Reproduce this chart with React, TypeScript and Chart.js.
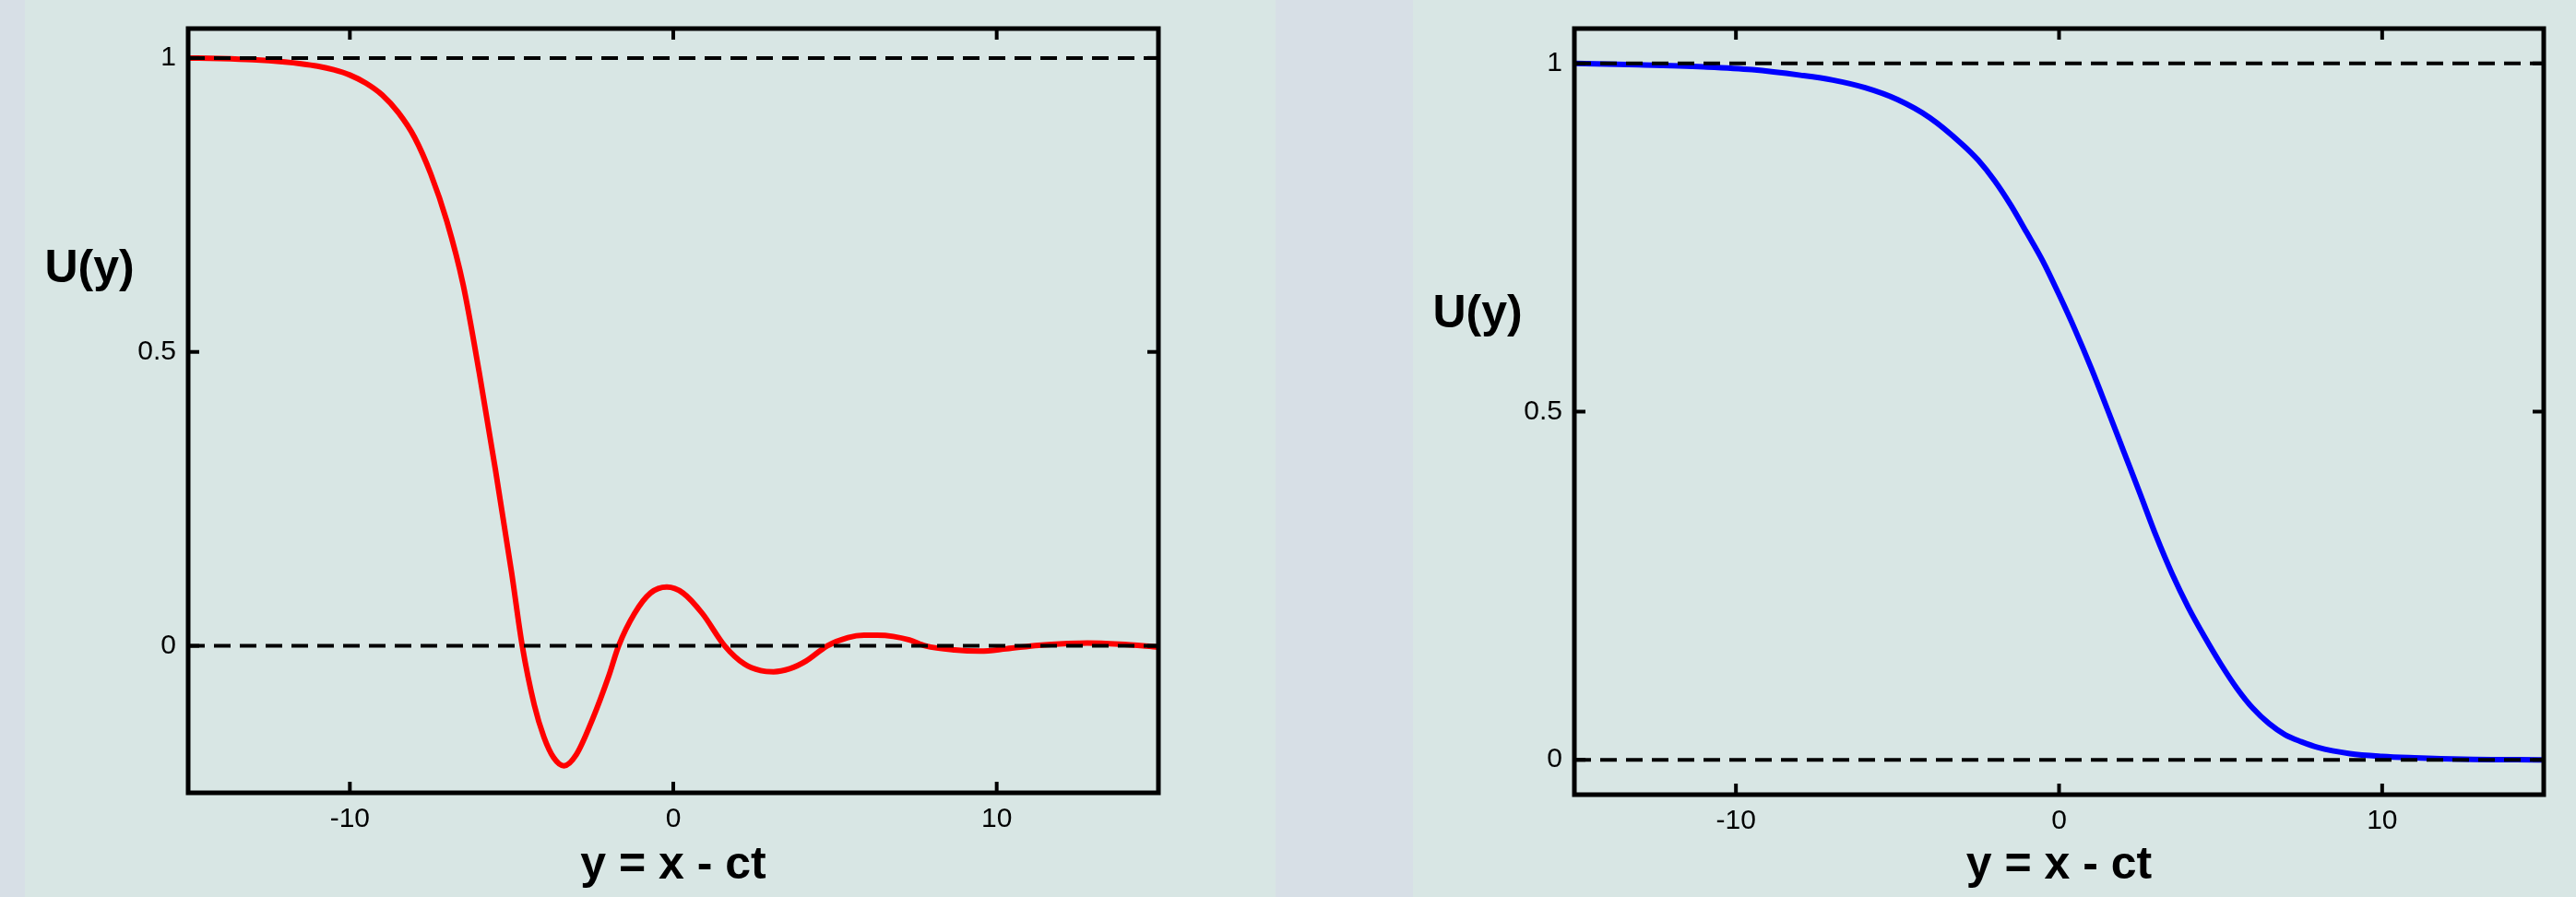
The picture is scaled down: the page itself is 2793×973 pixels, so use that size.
import React, { useEffect, useRef } from "react";
import { Chart, registerables } from "chart.js";

Chart.register(...registerables);

// ---- data ----
const X_TICKS = [-10, 0, 10];
const Y_TICKS = [0, 0.5, 1];
const REF_LEVELS = [0, 1];

const RED_X = [-15, -14, -13, -12, -11.5, -11, -10.5, -10, -9.5, -9.0, -8.5, -8.0, -7.5, -7.0, -6.5, -6.0, -5.5, -5.0, -4.67, -4.3, -4.0, -3.7, -3.38, -3.0, -2.5, -2.0, -1.69, -1.2, -0.7, -0.2, 0.3, 0.9, 1.59, 2.2, 2.7, 3.1, 3.6, 4.1, 4.76, 5.4, 5.9, 6.3, 6.8, 7.3, 7.8, 8.7, 9.5, 10.3, 11.3, 12.2, 12.8, 13.8, 15];
const RED_Y = [1.0, 0.999, 0.997, 0.993, 0.99, 0.986, 0.98, 0.971, 0.957, 0.937, 0.907, 0.865, 0.803, 0.722, 0.615, 0.465, 0.3, 0.125, 0.0, -0.1, -0.155, -0.19, -0.204, -0.185, -0.125, -0.052, 0, 0.055, 0.09, 0.1, 0.09, 0.055, 0, -0.031, -0.042, -0.044, -0.039, -0.026, 0, 0.014, 0.018, 0.018, 0.016, 0.01, 0, -0.007, -0.009, -0.005, 0.001, 0.004, 0.005, 0.003, -0.002];

const BLUE_X = [-15, -13, -11, -9.5, -8, -7, -6, -5, -4, -3, -2.5, -2, -1.5, -1, -0.5, 0, 0.5, 1, 1.5, 2, 2.5, 3, 3.5, 4, 4.5, 5, 5.5, 6, 6.5, 7, 7.5, 8, 9, 10, 11, 12.5, 15];
const BLUE_Y = [1.0, 0.998, 0.995, 0.991, 0.983, 0.976, 0.965, 0.948, 0.922, 0.884, 0.861, 0.832, 0.797, 0.757, 0.716, 0.668, 0.617, 0.562, 0.503, 0.443, 0.383, 0.322, 0.267, 0.219, 0.177, 0.138, 0.103, 0.074, 0.052, 0.036, 0.026, 0.018, 0.009, 0.005, 0.003, 0.001, 0.0];

const X_TITLE = "y = x - ct";
const Y_TITLE = "U(y)";

// ---- styles ----
const STRIP_BG = "rgb(215,223,230)";
const PANEL_BG = "rgb(216,230,228)";
const FONT = "'Liberation Sans', Arial, sans-serif";

const framePlugin = {
  id: "frame",
  afterDatasetsDraw(chart: any, _args: any, opts: any) {
    const { ctx, chartArea, scales } = chart;
    const { left, right, top, bottom } = chartArea;
    const xs = scales.x;
    const ys = scales.y;
    ctx.save();
    ctx.strokeStyle = "#000";
    ctx.lineWidth = 5;
    ctx.strokeRect(left, top, right - left, bottom - top);
    ctx.lineWidth = 4;
    const seg = (x1: number, y1: number, x2: number, y2: number) => {
      ctx.beginPath();
      ctx.moveTo(x1, y1);
      ctx.lineTo(x2, y2);
      ctx.stroke();
    };
    const L = 12;
    for (const t of xs.ticks) {
      const px = xs.getPixelForValue(t.value);
      seg(px, bottom, px, bottom - L);
      seg(px, top, px, top + L);
    }
    for (const t of ys.ticks) {
      const py = ys.getPixelForValue(t.value);
      seg(left, py, left + L, py);
      seg(right, py, right - L, py);
    }
    ctx.fillStyle = "#000";
    ctx.font = `bold 50px ${FONT}`;
    ctx.textAlign = "center";
    ctx.textBaseline = "middle";
    ctx.fillText(opts.text, opts.x, ys.getPixelForValue(opts.value));
    ctx.restore();
  },
};

type PanelProps = {
  width: number;
  xs: number[];
  ys: number[];
  color: string;
  yMin: number;
  yMax: number;
  yAxisWidth: number;
  padRight: number;
  padTop: number;
  xAxisHeight: number;
};

function Panel(p: PanelProps) {
  const ref = useRef<HTMLCanvasElement | null>(null);
  useEffect(() => {
    if (!ref.current) return;
    const curve = p.xs.map((x, i) => ({ x, y: p.ys[i] }));
    const refSets = REF_LEVELS.map((lv) => ({
      data: [
        { x: -15, y: lv },
        { x: 15, y: lv },
      ],
      borderColor: "#000",
      borderWidth: 4,
      borderDash: [18, 10],
      pointRadius: 0,
      showLine: true,
      order: 0,
    }));
    const chart = new Chart(ref.current, {
      type: "scatter",
      data: {
        datasets: [
          ...refSets,
          {
            data: curve,
            borderColor: p.color,
            borderWidth: 6,
            borderJoinStyle: "round",
            pointRadius: 0,
            showLine: true,
            cubicInterpolationMode: "monotone",
            order: 1,
          } as any,
        ],
      },
      options: {
        responsive: false,
        animation: false,
        devicePixelRatio: 1,
        layout: { padding: { left: 0, right: p.padRight, top: p.padTop, bottom: 0 } },
        plugins: {
          legend: { display: false },
          tooltip: { enabled: false },
          frame: { text: Y_TITLE, x: 70, value: 0.64 },
        } as any,
        scales: {
          x: {
            type: "linear",
            min: -15,
            max: 15,
            grid: { display: false, drawTicks: false },
            border: { display: false },
            afterBuildTicks: (s: any) => {
              s.ticks = X_TICKS.map((v) => ({ value: v }));
            },
            afterFit: (s: any) => {
              s.height = p.xAxisHeight;
            },
            ticks: {
              color: "#000",
              padding: 11,
              maxRotation: 0,
              font: { family: FONT, size: 30 },
              callback: (v: any) => String(v),
            },
            title: {
              display: true,
              text: X_TITLE,
              color: "#000",
              font: { family: FONT, size: 50, weight: "bold" },
              padding: { top: 0, bottom: 4 },
            },
          },
          y: {
            type: "linear",
            min: p.yMin,
            max: p.yMax,
            grid: { display: false, drawTicks: false },
            border: { display: false },
            afterBuildTicks: (s: any) => {
              s.ticks = Y_TICKS.map((v) => ({ value: v }));
            },
            afterFit: (s: any) => {
              s.width = p.yAxisWidth;
            },
            ticks: {
              color: "#000",
              padding: 13,
              font: { family: FONT, size: 30 },
              callback: (v: any) => String(v),
            },
          },
        },
      },
      plugins: [framePlugin as any],
    });
    return () => chart.destroy();
  }, []);
  return (
    <canvas
      ref={ref}
      width={p.width}
      height={973}
      style={{ display: "block", width: p.width, height: 973 }}
    />
  );
}

export default function App() {
  return (
    <div
      style={{
        position: "absolute",
        left: 0,
        top: 0,
        width: 2793,
        height: 973,
        background: STRIP_BG,
        overflow: "hidden",
      }}
    >
      <div style={{ position: "absolute", left: 27, top: 0, width: 1356, height: 973, background: PANEL_BG }}>
        <Panel
          width={1356}
          xs={RED_X}
          ys={RED_Y}
          color="#ff0000"
          yMin={-0.25}
          yMax={1.05}
          yAxisWidth={177}
          padRight={127}
          padTop={31}
          xAxisHeight={113}
        />
      </div>
      <div style={{ position: "absolute", left: 1532, top: 0, width: 1261, height: 973, background: PANEL_BG }}>
        <Panel
          width={1261}
          xs={BLUE_X}
          ys={BLUE_Y}
          color="#0000ff"
          yMin={-0.05}
          yMax={1.05}
          yAxisWidth={175}
          padRight={35}
          padTop={31}
          xAxisHeight={111}
        />
      </div>
    </div>
  );
}
